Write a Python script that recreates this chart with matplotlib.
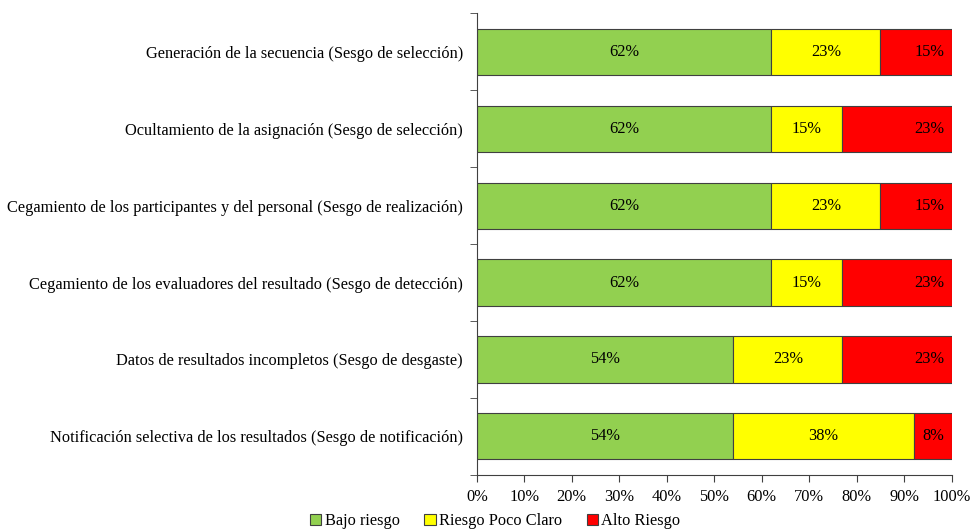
import matplotlib.pyplot as plt
import numpy as np

categories = [
    "Generación de la secuencia (Sesgo de selección)",
    "Ocultamiento de la asignación (Sesgo de selección)",
    "Cegamiento de los participantes y del personal (Sesgo de realización)",
    "Cegamiento de los evaluadores del resultado (Sesgo de detección)",
    "Datos de resultados incompletos (Sesgo de desgaste)",
    "Notificación selectiva de los resultados (Sesgo de notificación)",
]
bajo = [62, 62, 62, 62, 54, 54]
poco_claro = [23, 15, 23, 15, 23, 38]
alto = [15, 23, 15, 23, 23, 8]
series_names = ["Bajo riesgo", "Riesgo Poco Claro", "Alto Riesgo"]

plt.rcParams['font.family'] = ['Liberation Serif', 'DejaVu Serif']
fs = 11.8

fig = plt.figure(figsize=(9.73, 5.3), dpi=100)
ax = fig.add_axes([0.490, 0.104, 0.488, 0.871])

y = np.arange(len(categories))
colors = ['#92D050', '#FFFF00', '#FF0000']
left = np.zeros(len(categories))
for vals, col, name in zip([bajo, poco_claro, alto], colors, series_names):
    vals = np.array(vals)
    ax.barh(y, vals, left=left, height=0.6, color=col, edgecolor='#404040',
            linewidth=0.8, label=name)
    for yi, l, v in zip(y, left, vals):
        if col == '#FF0000':
            ax.text(98.5, yi, f"{v}%", ha='right', va='center', fontsize=fs)
        else:
            ax.text(l + v / 2, yi, f"{v}%", ha='center', va='center', fontsize=fs)
    left = left + vals

ax.set_xlim(0, 100)
ax.set_ylim(len(categories) - 0.5, -0.5)
ax.set_xticks(np.arange(0, 101, 10))
ax.set_xticklabels([f"{t}%" for t in range(0, 101, 10)], fontsize=fs)
ax.set_yticks(y)
ax.set_yticklabels(categories, fontsize=fs)
ax.tick_params(axis='y', length=0, pad=10)
ax.set_yticks(np.arange(-0.5, len(categories), 1), minor=True)
ax.tick_params(axis='y', which='minor', length=5, color='#404040')
ax.tick_params(axis='x', length=5, color='#404040', pad=5)

for s in ['top', 'right']:
    ax.spines[s].set_visible(False)
for s in ['left', 'bottom']:
    ax.spines[s].set_color('#404040')

fig.legend(loc='center', bbox_to_anchor=(0.509, 0.017), ncol=3,
           frameon=False, fontsize=fs, handlelength=0.7, handleheight=0.7,
           handletextpad=0.2, columnspacing=1.5, borderaxespad=0, borderpad=0)

fig.savefig("out.png", dpi=100)
